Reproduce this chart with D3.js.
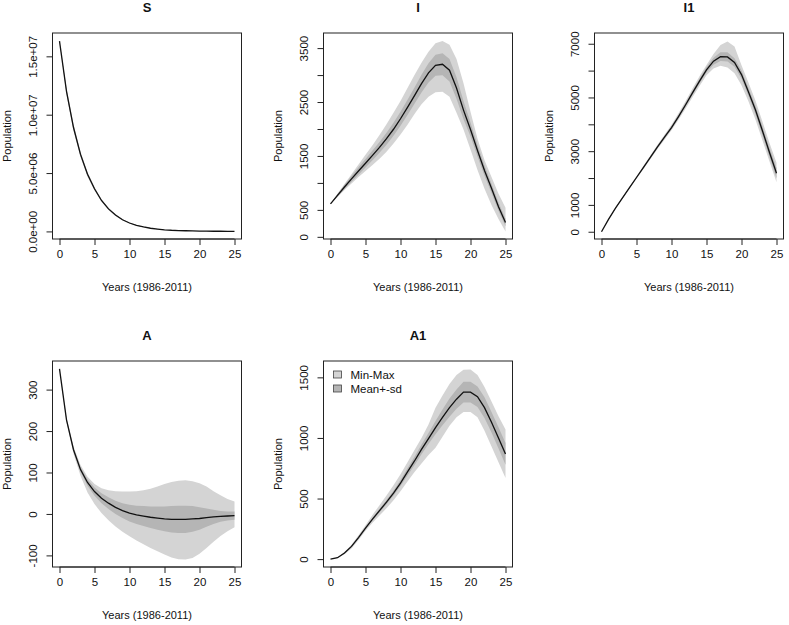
<!DOCTYPE html>
<html>
<head>
<meta charset="utf-8">
<script src="https://cdn.jsdelivr.net/npm/d3@7"></script>
<style>
  body { margin: 0; background: #fff; }
  text { font-family: "Liberation Sans", Arial, Helvetica, sans-serif; fill: #111; }
</style>
</head>
<body>
<div id="chart"></div>
<script>
// years 0..25 (1986-2011)
const years = [0,1,2,3,4,5,6,7,8,9,10,11,12,13,14,15,16,17,18,19,20,21,22,23,24,25];

// S
const sMean = [16.3e6,12.0e6,8.9e6,6.6e6,4.9e6,3.65e6,2.65e6,1.93e6,1.4e6,1.0e6,0.72e6,0.52e6,0.38e6,0.27e6,0.2e6,0.14e6,0.1e6,0.075e6,0.055e6,0.04e6,0.03e6,0.022e6,0.016e6,0.012e6,0.009e6,0.007e6];
const sSd   = [0,0.15e6,0.14e6,0.12e6,0.1e6,0.08e6,0.06e6,0.045e6,0.035e6,0.025e6,0.018e6,0.013e6,0.01e6,0.007e6,0.005e6,0.004e6,0.003e6,0.002e6,0.0015e6,0.001e6,0.001e6,0.0005e6,0.0004e6,0.0003e6,0.0002e6,0.0002e6];
const sMin  = [16.3e6,11.7e6,8.6e6,6.35e6,4.7e6,3.5e6,2.54e6,1.84e6,1.33e6,0.95e6,0.68e6,0.49e6,0.36e6,0.255e6,0.19e6,0.132e6,0.094e6,0.07e6,0.051e6,0.037e6,0.028e6,0.02e6,0.015e6,0.011e6,0.008e6,0.006e6];
const sMax  = [16.3e6,12.3e6,9.2e6,6.85e6,5.1e6,3.8e6,2.76e6,2.02e6,1.47e6,1.05e6,0.76e6,0.55e6,0.4e6,0.285e6,0.21e6,0.148e6,0.106e6,0.08e6,0.059e6,0.043e6,0.032e6,0.024e6,0.017e6,0.013e6,0.01e6,0.008e6];

// I
const iMean = [610,770,925,1075,1220,1365,1510,1660,1820,1995,2190,2400,2620,2840,3040,3180,3200,3090,2760,2350,1990,1600,1230,900,560,266];
const iSd   = [0,25,40,55,70,80,90,100,110,120,130,140,150,165,180,195,205,210,200,170,130,110,95,85,75,70];
const iMin  = [610,740,870,990,1110,1220,1330,1450,1580,1730,1900,2080,2280,2460,2600,2680,2690,2600,2300,1990,1620,1240,890,590,330,100];
const iMax  = [610,800,980,1160,1340,1520,1700,1890,2090,2300,2520,2760,3000,3230,3430,3590,3630,3560,3300,2850,2320,1820,1420,1110,800,540];

// I1
const i1Mean = [0,460,880,1260,1640,2020,2400,2780,3160,3520,3880,4290,4720,5170,5610,6030,6350,6520,6510,6300,5850,5200,4530,3750,2950,2180];
const i1Sd   = [0,5,10,15,20,25,30,35,40,45,50,60,70,80,90,100,130,160,170,160,150,150,160,170,180,190];
const i1Min  = [0,450,860,1230,1600,1970,2340,2710,3080,3430,3780,4170,4580,5010,5430,5830,6080,6180,6120,5900,5450,4850,4170,3400,2620,1840];
const i1Max  = [0,470,900,1290,1680,2070,2460,2850,3240,3610,3980,4410,4860,5330,5790,6210,6620,6950,7080,6900,6200,5550,4880,4100,3300,2570];

// A
const aMean = [350,227,155,107,76,54,38,26,16,8,2,-2,-5,-8,-10,-12,-13,-13,-13,-12,-11,-9,-7,-6,-5,-4];
const aSd   = [0,2,4,6,8,10,12,14,16,18,20,22,24,26,28,30,32,33,33,31,27,22,17,13,11,10];
const aMin  = [350,222,145,92,52,24,2,-15,-30,-43,-54,-64,-73,-82,-90,-98,-105,-109,-110,-106,-96,-82,-67,-53,-42,-32];
const aMax  = [350,232,163,118,90,72,62,57,55,54,54,55,57,61,66,72,77,80,81,79,74,66,55,45,36,30];

// A1
const a1Mean = [0,12,50,105,178,255,330,400,470,545,628,720,810,905,995,1085,1170,1250,1320,1378,1378,1340,1250,1130,1000,868];
const a1Sd   = [0,1,3,5,8,10,12,15,18,20,25,30,35,40,45,55,65,75,80,85,85,85,85,85,88,90];
const a1Min  = [0,10,40,88,158,235,300,360,420,485,560,640,720,790,860,920,1010,1100,1170,1215,1215,1170,1060,930,800,670];
const a1Max  = [0,14,58,118,198,280,365,445,525,610,700,800,900,1000,1110,1250,1350,1445,1520,1562,1565,1520,1420,1300,1180,1070];

// axis ticks and labels
const sTicks = [0,5e6,1e7,1.5e7];
const sTickLabels = ["0.0e+00","5.0e+06","1.0e+07","1.5e+07"];
const iTicks = [0,500,1000,1500,2000,2500,3000,3500];
const iTickLabels = ["0","500","","1500","","2500","","3500"];
const i1Ticks = [0,1000,2000,3000,4000,5000,6000,7000];
const i1TickLabels = ["0","1000","","3000","","5000","","7000"];
const aTicks = [-100,0,100,200,300];
const aTickLabels = ["-100","0","100","200","300"];
const a1Ticks = [0,500,1000,1500];
const a1TickLabels = ["0","500","1000","1500"];
const xTicks = [0,5,10,15,20,25];

const legendLabels = ["Min-Max","Mean+-sd"];

const W = 789, H = 625;
const colLeft = [52.5, 323.5, 594.5];
const rowTop = [33, 361];
const boxW = 189, boxH = 206;

const outerFill = "#d4d4d4", innerFill = "#b5b5b5";

const svg = d3.select("#chart").append("svg")
  .attr("width", W).attr("height", H);

const panels = [
  {title:"S",  col:0, row:0, mean:sMean,  sd:sSd,  min:sMin,  max:sMax,  ylim:[-6.5e5,1.7e7], ticks:sTicks,  labels:sTickLabels},
  {title:"I",  col:1, row:0, mean:iMean,  sd:iSd,  min:iMin,  max:iMax,  ylim:[-40,3780],     ticks:iTicks,  labels:iTickLabels},
  {title:"I1", col:2, row:0, mean:i1Mean, sd:i1Sd, min:i1Min, max:i1Max, ylim:[-270,7400],    ticks:i1Ticks, labels:i1TickLabels},
  {title:"A",  col:0, row:1, mean:aMean,  sd:aSd,  min:aMin,  max:aMax,  ylim:[-128,369],     ticks:aTicks,  labels:aTickLabels},
  {title:"A1", col:1, row:1, mean:a1Mean, sd:a1Sd, min:a1Min, max:a1Max, ylim:[-65,1635],     ticks:a1Ticks, labels:a1TickLabels, legend:true}
];

panels.forEach(function(p) {
  const left = colLeft[p.col], top = rowTop[p.row];
  const g = svg.append("g").attr("transform", `translate(${left},${top})`);

  const x = d3.scaleLinear().domain([-1, 26]).range([0, boxW]);
  const y = d3.scaleLinear().domain(p.ylim).range([boxH, 0]);

  const rows = years.map((t, i) => ({t: t, mean: p.mean[i], sd: p.sd[i], min: p.min[i], max: p.max[i]}));

  // min-max band
  g.append("path")
    .datum(rows)
    .attr("fill", outerFill)
    .attr("d", d3.area().x(d => x(d.t)).y0(d => y(d.min)).y1(d => y(d.max)));

  // mean +- sd band
  g.append("path")
    .datum(rows)
    .attr("fill", innerFill)
    .attr("d", d3.area().x(d => x(d.t)).y0(d => y(d.mean - d.sd)).y1(d => y(d.mean + d.sd)));

  // mean line
  g.append("path")
    .datum(rows)
    .attr("fill", "none")
    .attr("stroke", "#111")
    .attr("stroke-width", 1.3)
    .attr("d", d3.line().x(d => x(d.t)).y(d => y(d.mean)));

  // box
  g.append("rect")
    .attr("x", 0).attr("y", 0).attr("width", boxW).attr("height", boxH)
    .attr("fill", "none").attr("stroke", "#222").attr("stroke-width", 1);

  // x axis
  const xAxis = d3.axisBottom(x).tickValues(xTicks).tickSize(6).tickPadding(5);
  const gx = g.append("g").attr("transform", `translate(0,${boxH})`).call(xAxis);
  gx.select(".domain")
    .attr("d", `M${x(xTicks[0])},0H${x(xTicks[xTicks.length-1])}`)
    .attr("stroke", "#222");
  gx.selectAll(".tick line").attr("stroke", "#222");
  gx.selectAll("text").style("font-size", "11.5px").attr("fill", "#111")
    .attr("font-family", "Liberation Sans, Arial, sans-serif");

  // y axis (labels parallel to axis)
  const yAxis = d3.axisLeft(y).tickValues(p.ticks).tickSize(6).tickFormat((d, i) => p.labels[i]);
  const gy = g.append("g").call(yAxis);
  gy.select(".domain")
    .attr("d", `M0,${y(p.ticks[0])}V${y(p.ticks[p.ticks.length-1])}`)
    .attr("stroke", "#222");
  gy.selectAll(".tick line").attr("stroke", "#222");
  gy.selectAll(".tick text")
    .attr("x", null).attr("dy", null)
    .attr("transform", "translate(-16,0) rotate(-90)")
    .attr("text-anchor", "middle")
    .style("font-size", "11.5px").attr("fill", "#111")
    .attr("font-family", "Liberation Sans, Arial, sans-serif");

  // axis titles
  g.append("text")
    .attr("x", boxW / 2).attr("y", boxH + 52)
    .attr("text-anchor", "middle")
    .style("font-size", "11px")
    .text("Years (1986-2011)");

  g.append("text")
    .attr("transform", `translate(-42,${boxH / 2}) rotate(-90)`)
    .attr("text-anchor", "middle")
    .style("font-size", "11px")
    .text("Population");

  // panel title
  g.append("text")
    .attr("x", boxW / 2).attr("y", -21)
    .attr("text-anchor", "middle")
    .style("font-size", "13px")
    .style("font-weight", "bold")
    .text(p.title);

  // legend
  if (p.legend) {
    const lg = g.append("g").attr("transform", "translate(10,10)");
    lg.selectAll("rect")
      .data(legendLabels)
      .join("rect")
        .attr("x", 0)
        .attr("y", (d, i) => i * 14)
        .attr("width", 8).attr("height", 7)
        .attr("fill", (d, i) => i === 0 ? outerFill : innerFill)
        .attr("stroke", "#444").attr("stroke-width", 0.8);
    lg.selectAll("text")
      .data(legendLabels)
      .join("text")
        .attr("x", 17)
        .attr("y", (d, i) => i * 14 + 7.5)
        .style("font-size", "11.5px")
        .text(d => d);
  }
});
</script>
</body>
</html>
